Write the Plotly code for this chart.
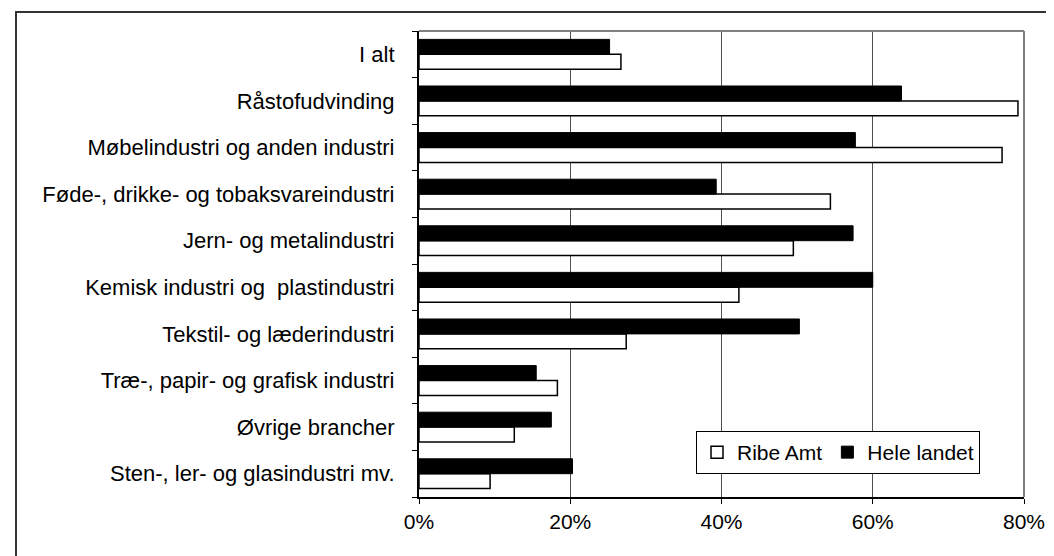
import plotly.graph_objects as go

# Categories, top to bottom as they appear in the chart
categories = [
    "I alt",
    "Råstofudvinding",
    "Møbelindustri og anden industri",
    "Føde-, drikke- og tobaksvareindustri",
    "Jern- og metalindustri",
    "Kemisk industri og  plastindustri",
    "Tekstil- og læderindustri",
    "Træ-, papir- og grafisk industri",
    "Øvrige brancher",
    "Sten-, ler- og glasindustri mv.",
]
ribe_amt = [0.267, 0.792, 0.771, 0.544, 0.495, 0.423, 0.274, 0.183, 0.126, 0.094]
hele_landet = [0.252, 0.638, 0.577, 0.393, 0.574, 0.600, 0.503, 0.155, 0.175, 0.203]
x_ticks = [0, 0.2, 0.4, 0.6, 0.8]

FONT = "Liberation Sans, Arial, sans-serif"
W, H = 1054, 556
L, R, T, B = 411, 38, 23, 67

fig = go.Figure()
fig.add_trace(go.Bar(
    y=categories, x=ribe_amt, orientation="h", name="Ribe Amt",
    marker=dict(color="white", line=dict(color="black", width=1.5)),
))
fig.add_trace(go.Bar(
    y=categories, x=hele_landet, orientation="h", name="Hele landet",
    marker=dict(color="black", line=dict(color="black", width=1)),
))

# outer chart border (right/bottom edges fall outside the picture)
fig.add_shape(type="rect", xref="paper", yref="paper",
              x0=(8 - L) / (W - L - R), x1=2,
              y0=-1, y1=1 + (T - 4) / (H - T - B),
              line=dict(color="#333333", width=2), layer="below")
# grey top and right frame of the plot area
fig.add_shape(type="line", xref="paper", yref="paper", x0=0, x1=1, y0=1, y1=1,
              line=dict(color="#808080", width=2))
fig.add_shape(type="line", xref="paper", yref="paper", x0=1, x1=1, y0=0, y1=1,
              line=dict(color="#808080", width=2))

fig.update_layout(
    width=W, height=H,
    margin=dict(l=L, r=R, t=T, b=B),
    paper_bgcolor="white", plot_bgcolor="white",
    font=dict(family=FONT, size=22, color="black"),
    barmode="group", bargap=0.36, bargroupgap=0,
    showlegend=True,
    legend=dict(
        orientation="h", x=(688 - L) / (W - L - R), y=(489 - 423) / (H - T - B),
        xanchor="left", yanchor="top",
        bordercolor="black", borderwidth=1, bgcolor="white",
        font=dict(family=FONT, size=21, color="black"),
        itemwidth=30, tracegroupgap=0,
    ),
    xaxis=dict(
        range=[0, 0.8], tickvals=x_ticks, tickformat=".0%",
        tickfont=dict(size=21),
        showgrid=True, gridcolor="#505050", gridwidth=1,
        zeroline=False, showline=True, linecolor="black", linewidth=1.5,
        ticks="outside", ticklen=5, tickcolor="black",
    ),
    yaxis=dict(
        categoryorder="array", categoryarray=categories[::-1],
        tickfont=dict(size=22),
        showgrid=False, showline=True, linecolor="black", linewidth=1.5,
        ticks="outside", ticklen=5, tickcolor="black", tickson="boundaries",
        ticksuffix="   ",
    ),
)

fig.write_html("out.html")
